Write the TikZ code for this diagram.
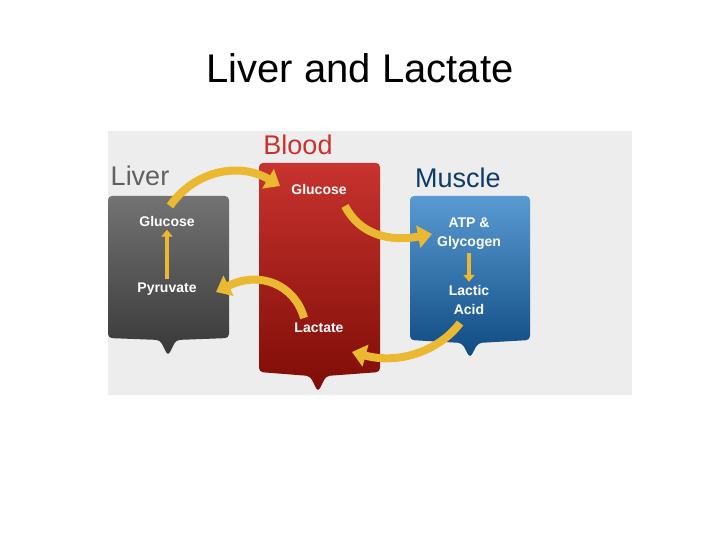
\documentclass[tikz,border=0pt]{standalone}
\usepackage{fontspec}
\setmainfont{Liberation Sans}
\usetikzlibrary{arrows.meta}
\definecolor{gold}{HTML}{EBB931}
\definecolor{mtop}{HTML}{5A9AD2}
\definecolor{mbot}{HTML}{0E4A82}
\definecolor{rtop}{HTML}{C8332E}
\definecolor{rbot}{HTML}{7E0C06}
\begin{document}
\begin{tikzpicture}[x=1pt,y=-1pt,
  lbl/.style={text=white,font=\bfseries\fontsize{14}{19}\selectfont,align=center},
  head/.style={font=\fontsize{27}{30}\selectfont},
  yarr/.style={draw=gold,line width=8pt,-{Triangle[length=14pt,width=22pt]}},
  sarr/.style={draw=gold,line width=4pt,-{Triangle[length=7pt,width=11pt]}}]
\useasboundingbox (0,0) rectangle (720,540);
\fill[white] (0,0) rectangle (720,540);
\fill[gray!14] (108,131) rectangle (632,395);
\node[font=\fontsize{40}{44}\selectfont] (title) at (360,68) {Liver and Lactate};
% boxes
\shade[top color=gray!90!black,bottom color=black!78,rounded corners=4pt]
 (108,196) -- (229,196) -- (229,338) -- (176,340) -- (168,356) -- (160,340) -- (108,338) -- cycle;
\shade[top color=rtop,bottom color=rbot,rounded corners=4pt]
 (259,163) -- (380,163) -- (380,372) -- (326,376) -- (318,392) -- (310,376) -- (259,372) -- cycle;
\shade[top color=mtop,bottom color=mbot,rounded corners=4pt]
 (410,196) -- (530,196) -- (530,340) -- (478,343) -- (470,358) -- (462,343) -- (410,340) -- cycle;
\node[head,text=gray!75!black] (hl) at (140,176) {Liver};
\node[head,text=rtop] (hb) at (298,145) {Blood};
\node[head,text=mbot!80!black] (hm) at (458,178) {Muscle};
\node[lbl] (lg) at (167,221) {Glucose};
\node[lbl] (lp) at (167,289) {Pyruvate};
\node[lbl] (bg) at (319,189) {Glucose};
\node[lbl] (bl) at (319,328) {Lactate};
\node[lbl] (ma) at (469,234) {ATP \&\\Glycogen};
\node[lbl] (ml) at (469,300) {Lactic\\Acid};
\draw[sarr] (lp) -- (lg);
\draw[sarr] (ma) -- (ml);
\coordinate (a1s) at (170,206); \coordinate (a1e) at (280,186);
\draw[yarr] (a1s) .. controls (195,170) and (240,162) .. (a1e);
\coordinate (a2s) at (345,206); \coordinate (a2e) at (432,234);
\draw[yarr] (a2s) .. controls (360,235) and (390,242) .. (a2e);
\coordinate (a3s) at (304,318); \coordinate (a3e) at (216,292);
\draw[yarr] (a3s) .. controls (295,285) and (260,270) .. (a3e);
\coordinate (a4s) at (460,323); \coordinate (a4e) at (352,352);
\draw[yarr] (a4s) .. controls (440,350) and (400,365) .. (a4e);
\end{tikzpicture}
\end{document}
